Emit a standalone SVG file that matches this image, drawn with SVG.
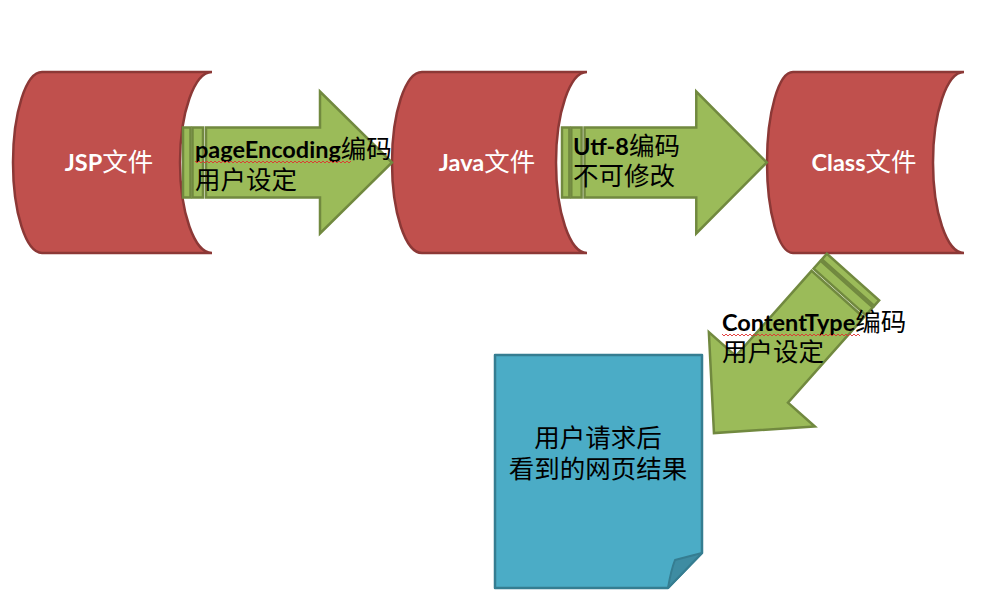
<svg xmlns="http://www.w3.org/2000/svg" xmlns:xlink="http://www.w3.org/1999/xlink" width="984" height="598" viewBox="0 0 984 598">
<style>
.cyl{fill:#C0504D;stroke:#8C3836;stroke-width:2.5}
.arr{fill:#9BBB59;stroke:#71893F;stroke-width:2.5;stroke-linejoin:miter}
.doc{fill:#4BACC6;stroke:#357D91;stroke-width:2.5;stroke-linejoin:round}
.fold{fill:#3E8CA2;stroke:#357D91;stroke-width:2;stroke-linejoin:round}
.wt{fill:#FFFFFF;font-family:"Lato","Noto Sans CJK SC",sans-serif}
.bk{fill:#000000;font-family:"Lato","Noto Sans CJK SC",sans-serif}
.lat{font-weight:bold;font-size:23.5px}
.cjk{font-family:"Noto Sans CJK SC",sans-serif;font-weight:normal;font-size:25.5px}
.sq{fill:none;stroke:#E03030;stroke-width:0.9}
</style>
<defs>
<g id="striped-arrow">
<rect class="arr" x="0" y="-35" width="7.5" height="70"/>
<rect class="arr" x="9.5" y="-35" width="10.5" height="70"/>
<path class="arr" d="M23,-35 H137 V-71 L209,0 L137,71 V35 H23 Z"/>
</g>
</defs>
<rect width="984" height="598" fill="#FFFFFF"/>
<g id="nodes">
<g id="jsp">
<path class="cyl" d="M42,72 H212 A32,90.5 0 0 0 212,253 H42 A29,90.5 0 0 1 42,72 Z"/>
<text class="wt" x="109" y="171" text-anchor="middle"><tspan class="lat">JSP</tspan><tspan class="cjk">文件</tspan></text>
</g>
<g id="java">
<path class="cyl" d="M422,72 H587 A31,90.5 0 0 0 587,253 H422 A30,90.5 0 0 1 422,72 Z"/>
<text class="wt" x="487" y="171" text-anchor="middle"><tspan class="lat">Java</tspan><tspan class="cjk">文件</tspan></text>
</g>
<g id="class">
<path class="cyl" d="M793,72 H964 A31,90.5 0 0 0 964,253 H793 A26,90.5 0 0 1 793,72 Z"/>
<text class="wt" x="864" y="171" text-anchor="middle"><tspan class="lat">Class</tspan><tspan class="cjk">文件</tspan></text>
</g>
<g id="result">
<path class="doc" d="M495,355 H702 V553 L668,588 H495 Z"/>
<path class="fold" d="M668,588 Q671,570 675,560 Q690,556 702,553 Z"/>
<text class="bk cjk" text-anchor="middle"><tspan x="598" y="447">用户请求后</tspan><tspan x="598" y="478">看到的网页结果</tspan></text>
</g>
</g>
<g id="connectors">
<g id="arrow1">
<use xlink:href="#striped-arrow" transform="translate(183,162.5)"/>
<text class="bk"><tspan x="195" y="158" class="lat">pageEncoding</tspan><tspan class="cjk">编码</tspan><tspan class="cjk" x="195" y="189">用户设定</tspan></text>
<path class="sq" d="M195,161 l2,2 l2,-2 l2,2 l2,-2 l2,2 l2,-2 l2,2 l2,-2 l2,2 l2,-2 l2,2 l2,-2 l2,2 l2,-2 l2,2 l2,-2 l2,2 l2,-2 l2,2 l2,-2 l2,2 l2,-2 l2,2 l2,-2 l2,2 l2,-2 l2,2 l2,-2 l2,2 l2,-2 l2,2 l2,-2 l2,2 l2,-2 l2,2 l2,-2 l2,2 l2,-2 l2,2 l2,-2 l2,2 l2,-2 l2,2 l2,-2 l2,2 l2,-2 l2,2 l2,-2 l2,2 l2,-2 l2,2 l2,-2 l2,2 l2,-2 l2,2 l2,-2 l2,2 l2,-2 l2,2 l2,-2 l2,2 l2,-2 l2,2 l2,-2 l2,2 l2,-2 l2,2 l2,-2 l2,2 l2,-2 l2,2 l2,-2 l2,2 l2,-2 l2,2 l2,-2 l2,2 l2,-2"/>
</g>
<g id="arrow2">
<use xlink:href="#striped-arrow" transform="translate(562,162.5) scale(0.98,1)"/>
<text class="bk"><tspan x="573" y="155" class="lat">Utf-8</tspan><tspan class="cjk">编码</tspan><tspan class="cjk" x="573" y="185">不可修改</tspan></text>
</g>
<g id="arrow3">
<use xlink:href="#striped-arrow" transform="translate(853,277) rotate(131.7)"/>
<text class="bk"><tspan x="722" y="331" class="lat">ContentType</tspan><tspan class="cjk">编码</tspan><tspan class="cjk" x="722" y="361">用户设定</tspan></text>
<path class="sq" d="M722,334 l2,2 l2,-2 l2,2 l2,-2 l2,2 l2,-2 l2,2 l2,-2 l2,2 l2,-2 l2,2 l2,-2 l2,2 l2,-2 l2,2 l2,-2 l2,2 l2,-2 l2,2 l2,-2 l2,2 l2,-2 l2,2 l2,-2 l2,2 l2,-2 l2,2 l2,-2 l2,2 l2,-2 l2,2 l2,-2 l2,2 l2,-2 l2,2 l2,-2 l2,2 l2,-2 l2,2 l2,-2 l2,2 l2,-2 l2,2 l2,-2 l2,2 l2,-2 l2,2 l2,-2 l2,2 l2,-2 l2,2 l2,-2 l2,2 l2,-2 l2,2 l2,-2 l2,2 l2,-2 l2,2 l2,-2 l2,2 l2,-2 l2,2 l2,-2 l2,2 l2,-2 l2,2 l2,-2 l2,2"/>
</g>
</g>
</svg>
